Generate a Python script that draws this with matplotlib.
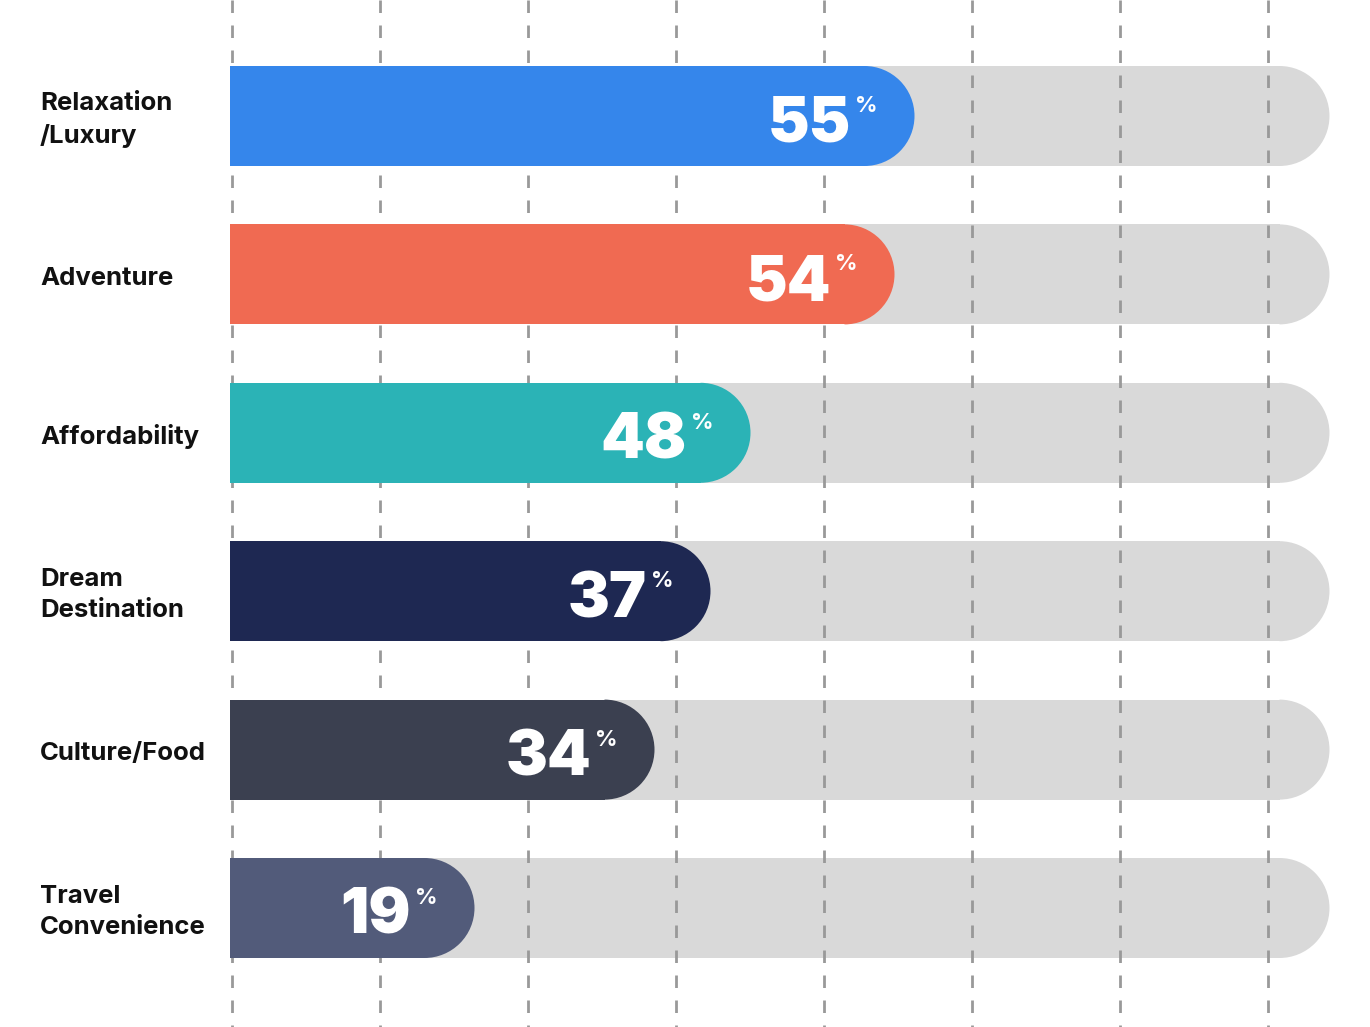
import numpy as np
import matplotlib.pyplot as plt
from matplotlib.patches import Wedge

categories = ["Relaxation\n/Luxury", "Adventure", "Affordability",
              "Dream\nDestination", "Culture/Food", "Travel\nConvenience"]
values = [55, 54, 48, 37, 34, 19]
# drawn bar lengths (px from left edge of the track)
bar_lengths = [685, 665, 521, 481, 425, 245]
colors = ["#3586eb", "#f06a52", "#2bb3b6", "#1e2852", "#3b4050", "#525b7a"]
track_length = 1100


def rounded_bar(ax, y, length, color, height, z):
    r = height / 2
    ax.barh(y, length - r, height=height, left=0, color=color,
            linewidth=0, zorder=z)
    ax.add_patch(Wedge((length - r - 0.5, y), r, -90, 90, color=color,
                       linewidth=0, zorder=z))


def main():
    fig = plt.figure(figsize=(13.7, 10.27), dpi=100)
    ax = fig.add_axes([0, 0, 1, 1])
    ax.set_xlim(-230, 1140)
    ax.set_ylim(1027, 0)
    ax.axis("off")

    ys = 116 + np.arange(len(categories)) * 158.4
    h = 100

    for y in ys:
        rounded_bar(ax, y, track_length, "#d9d9d9", h, 1)

    for x in np.arange(8) * 148 + 2:
        ax.plot([x, x], [0, 1027], color="#999999", lw=2,
                dashes=(4.5, 4.5), zorder=2, solid_capstyle="butt")

    for i, y in enumerate(ys):
        L = bar_lengths[i]
        rounded_bar(ax, y, L, colors[i], h, 3)
        ax.text(L - 64, y + 26, str(values[i]), color="white", ha="right",
                va="baseline", fontsize=45, fontweight=900,
                family="Inter", zorder=4)
        ax.text(L - 60, y - 4, "%", color="white", ha="left",
                va="baseline", fontsize=16, fontweight="bold",
                family="Inter", zorder=4)
        ax.text(-190, y + 4, categories[i], ha="left", va="center",
                fontsize=18.5, fontweight="bold", family="Inter",
                color="#111111", linespacing=1.45)

    fig.savefig("out.png", dpi=100)


if __name__ == "__main__":
    main()
